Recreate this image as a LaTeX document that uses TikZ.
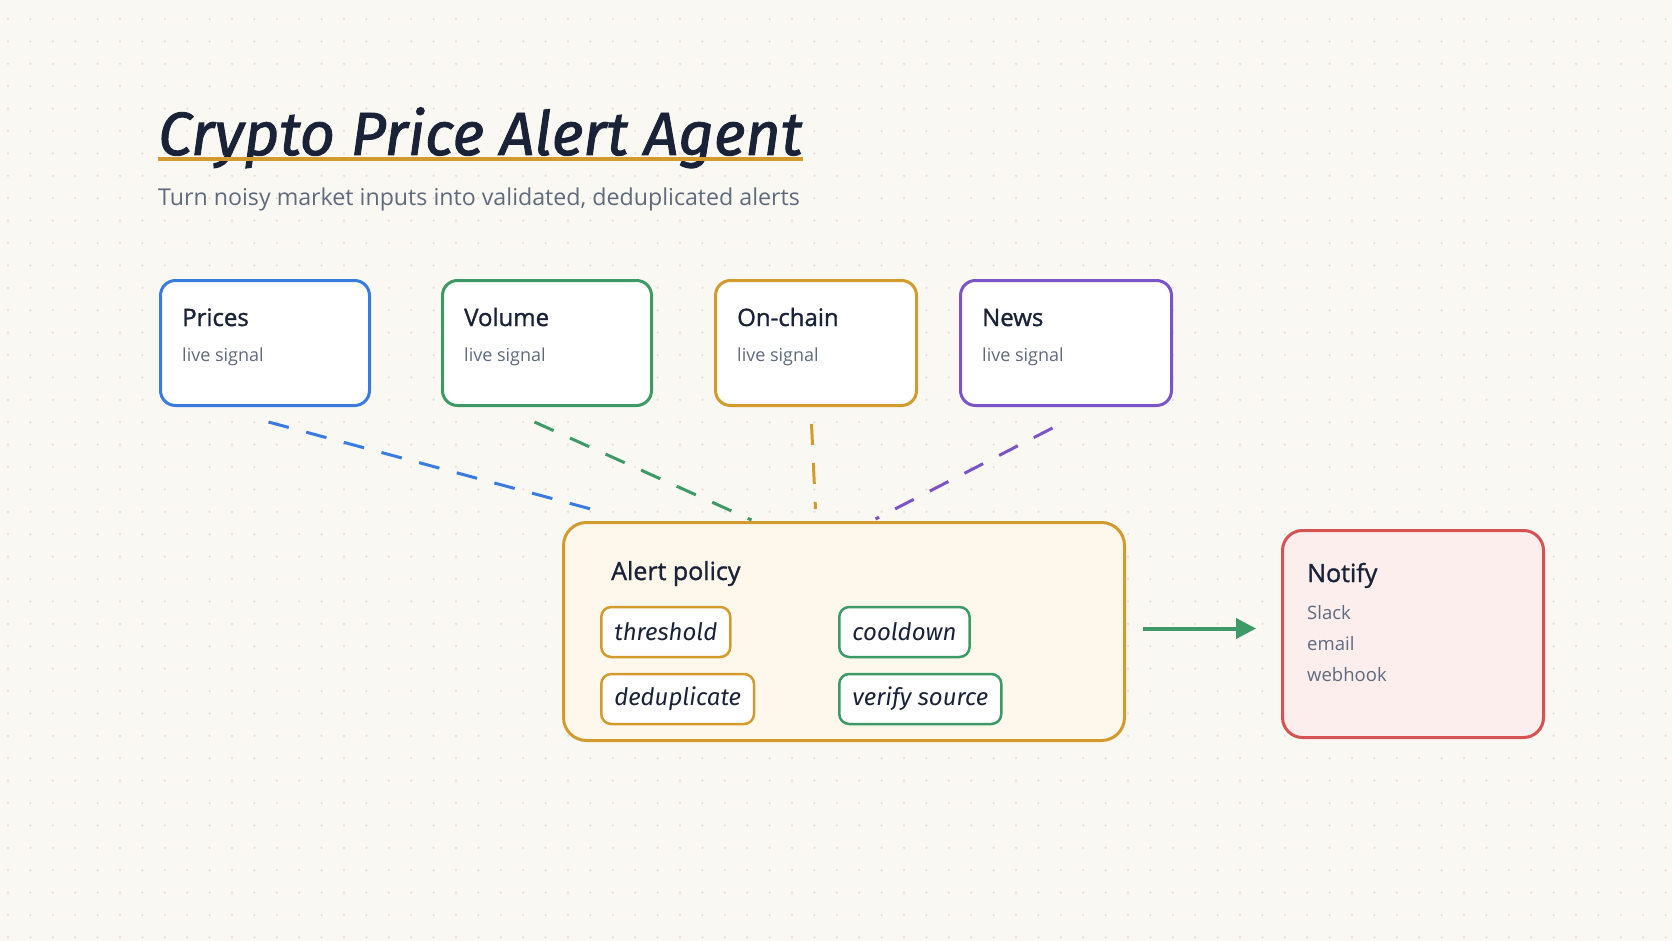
\documentclass[tikz,border=0pt]{standalone}
\usepackage{fontspec}
\setmainfont{Open Sans}
\newfontfamily\headfont{Open Sans}[FakeBold=1.3]
\newfontfamily\handfont{Fira Sans}
\newfontfamily\titlefont{Fira Sans}[FakeBold=1.5]
\usetikzlibrary{positioning,arrows.meta,calc}
\definecolor{bg}{HTML}{FAF8F2}
\definecolor{dotc}{HTML}{E8DDD0}
\definecolor{ink}{HTML}{1A2238}
\definecolor{muted}{HTML}{5F6A7D}
\definecolor{cblue}{HTML}{3A7BE0}
\definecolor{cgreen}{HTML}{3D9A66}
\definecolor{cgold}{HTML}{D39B2E}
\definecolor{cpurple}{HTML}{7B55C7}
\definecolor{cred}{HTML}{D65353}
\definecolor{policyfill}{HTML}{FEF8EC}
\definecolor{notifyfill}{HTML}{FDEEEE}

\begin{document}
\begin{tikzpicture}[x=1pt,y=-1pt,
  box/.style={draw, line width=3pt, rounded corners=15pt, fill=white, anchor=north west, inner sep=0pt},
  head/.style={anchor=base west, inner sep=0pt, text=ink, font=\headfont\fontsize{24}{28}\selectfont},
  sub/.style={anchor=base west, inner sep=0pt, text=muted, font=\fontsize{18}{22}\selectfont},
  chip/.style={draw, line width=2.5pt, rounded corners=10pt, fill=white, anchor=west, inner xsep=13pt, inner ysep=0pt, minimum height=50pt, text=ink, font=\handfont\itshape\fontsize{24}{28}\selectfont},
  link/.style={line width=3pt, dash pattern=on 21pt off 18pt},
  flow/.style={line width=4pt, -{Triangle[length=20pt,width=20pt]}}]
  \fill[bg] (0,0) rectangle (1672,941);
  \useasboundingbox (0,0) rectangle (1672,941);
  \foreach \x in {8,30.4,...,1672} \foreach \y in {19,41.4,...,941}
    \fill[dotc] (\x,\y) circle (1.2pt);

  \node[anchor=base west, inner sep=0pt, text=ink, font=\titlefont\itshape\fontsize{61}{70}\selectfont] (title) at (158,155) {Crypto Price Alert Agent};
  \draw[cgold, line width=4pt] (title.west |- 0,159) -- (title.east |- 0,159);
  \node[anchor=base west, inner sep=0pt, text=muted, font=\fontsize{23.2}{27}\selectfont] (subtitle) at (158,206) {Turn noisy market inputs into validated, deduplicated alerts};

  \foreach \n/\t/\c/\x/\w in {prices/Prices/cblue/159/209, volume/Volume/cgreen/441/209, onchain/On-chain/cgold/714/201, news/News/cpurple/959/211} {
    \node[box, draw=\c, minimum width=\w pt, minimum height=125pt] (\n) at (\x,279) {};
    \node[head] (\n_t) at ([xshift=23pt,yshift=-47pt]\n.north west) {\t};
    \node[sub] (\n_s) at ([xshift=23pt,yshift=-82pt]\n.north west) {live signal};
  }

  \node[box, draw=cgold, fill=policyfill, rounded corners=23pt, minimum width=561pt, minimum height=218pt] (policy) at (562,521) {};
  \node[head, font=\headfont\fontsize{25}{30}\selectfont] (policy_t) at ([xshift=49pt,yshift=-59pt]policy.north west) {Alert policy};
  \node[chip, draw=cgold] (c_0) at (600,632) {threshold};
  \node[chip, draw=cgreen] (c_1) at (838,632) {cooldown};
  \node[chip, draw=cgold] (c_2) at (600,699) {deduplicate};
  \node[chip, draw=cgreen] (c_3) at (838,699) {verify source};

  \node[box, draw=cred, fill=notifyfill, rounded corners=20pt, minimum width=261pt, minimum height=207pt] (notify) at (1281,529) {};
  \node[head, font=\headfont\fontsize{25}{30}\selectfont] (notify_t) at ([xshift=26pt,yshift=-53pt]notify.north west) {Notify};
  \node[sub, font=\fontsize{18.5}{22}\selectfont] (notify_1) at ([xshift=26pt,yshift=-90pt]notify.north west) {Slack};
  \node[sub, font=\fontsize{18.5}{22}\selectfont] (notify_2) at ([xshift=26pt,yshift=-121pt]notify.north west) {email};
  \node[sub, font=\fontsize{18.5}{22}\selectfont] (notify_3) at ([xshift=26pt,yshift=-152pt]notify.north west) {webhook};

  \foreach \n/\c/\ax/\ay/\bx/\by in {prices/cblue/3.5/-15/-249.5/11, volume/cgreen/-12.5/-15/-92.5/1, onchain/cgold/-4.5/-17/-28.5/12, news/cpurple/-13.5/-21/31.5/2} {
    \coordinate (\n_out) at ([xshift=\ax pt,yshift=\ay pt]\n.south);
    \coordinate (\n_in) at ([xshift=\bx pt,yshift=\by pt]policy.north);
    \draw[link, \c] (\n_out) -- (\n_in);
  }

  \coordinate (arrow_s) at ([xshift=17pt,yshift=3pt]policy.east);
  \coordinate (arrow_e) at ([xshift=-25pt]notify.west |- arrow_s);
  \draw[flow, cgreen] (arrow_s) -- (arrow_e);
\end{tikzpicture}
\end{document}
